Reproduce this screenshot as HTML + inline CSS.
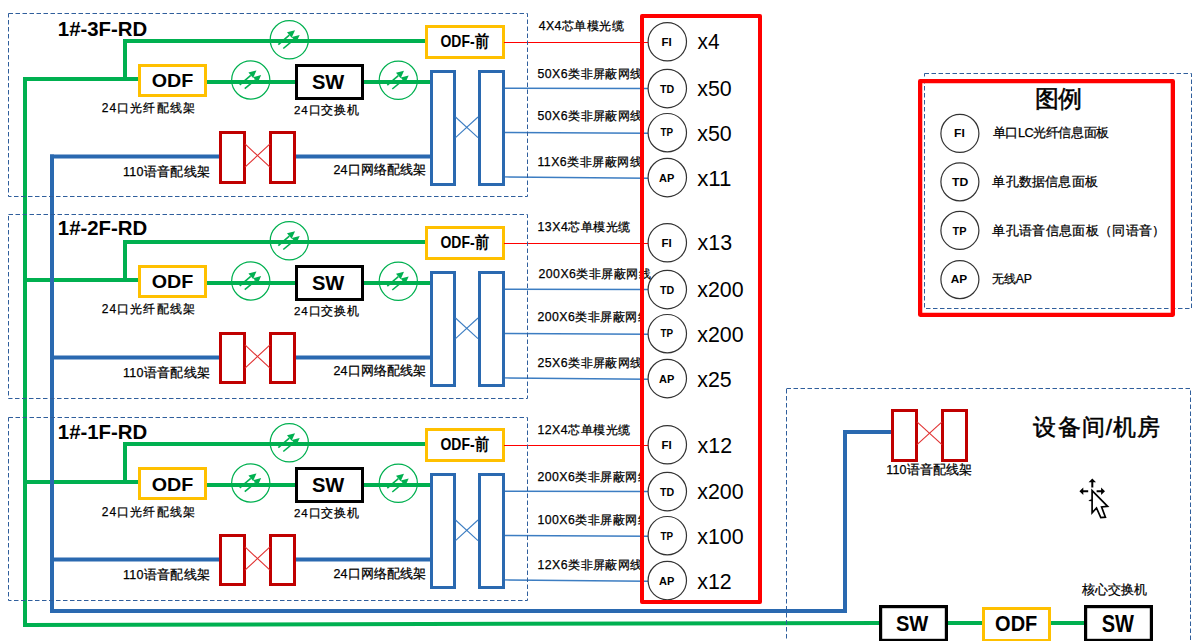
<!DOCTYPE html><html><head><meta charset="utf-8"><style>html,body{margin:0;padding:0;background:#fff;width:1200px;height:641px;overflow:hidden}svg{display:block}text{font-family:"Liberation Sans", sans-serif;fill:#000}</style></head><body>
<svg width="1200" height="641" viewBox="0 0 1200 641">
<defs><clipPath id="lc"><rect x="0" y="0" width="640" height="641"/></clipPath></defs>
<rect width="1200" height="641" fill="#fff"/>
<polyline points="125,79 125,41 426,41" fill="none" stroke="#00B050" stroke-width="4"/>
<line x1="25" y1="79" x2="139" y2="79" stroke="#00B050" stroke-width="4"/>
<line x1="206" y1="82" x2="296" y2="82" stroke="#00B050" stroke-width="4"/>
<line x1="362" y1="82" x2="431" y2="82" stroke="#00B050" stroke-width="4"/>
<circle cx="289.3" cy="39.8" r="19.1" fill="none" stroke="#00B050" stroke-width="1.2"/>
<line x1="278.30" y1="44.60" x2="289.32" y2="35.10" stroke="#00B050" stroke-width="1.6"/>
<polygon points="295.00,30.20 291.67,37.82 286.97,32.37" fill="#00B050"/>
<line x1="283.30" y1="48.50" x2="293.93" y2="39.69" stroke="#00B050" stroke-width="1.6"/>
<polygon points="299.70,34.90 296.22,42.46 291.63,36.92" fill="#00B050"/>
<circle cx="250.75" cy="80" r="19.1" fill="none" stroke="#00B050" stroke-width="1.2"/>
<line x1="239.75" y1="84.80" x2="250.77" y2="75.30" stroke="#00B050" stroke-width="1.6"/>
<polygon points="256.45,70.40 253.12,78.02 248.42,72.57" fill="#00B050"/>
<line x1="244.75" y1="88.70" x2="255.38" y2="79.89" stroke="#00B050" stroke-width="1.6"/>
<polygon points="261.15,75.10 257.67,82.66 253.08,77.12" fill="#00B050"/>
<circle cx="398.3" cy="80.3" r="19.1" fill="none" stroke="#00B050" stroke-width="1.2"/>
<line x1="387.30" y1="85.10" x2="398.32" y2="75.60" stroke="#00B050" stroke-width="1.6"/>
<polygon points="404.00,70.70 400.67,78.32 395.97,72.87" fill="#00B050"/>
<line x1="392.30" y1="89.00" x2="402.93" y2="80.19" stroke="#00B050" stroke-width="1.6"/>
<polygon points="408.70,75.40 405.22,82.96 400.63,77.42" fill="#00B050"/>
<rect x="139.50" y="65.50" width="66.00" height="30.00" fill="#fff" stroke="#FFC000" stroke-width="3"/>
<rect x="296.50" y="65.50" width="66.00" height="33.00" fill="#fff" stroke="#000" stroke-width="3"/>
<rect x="426.50" y="26.50" width="77.00" height="31.00" fill="#fff" stroke="#FFC000" stroke-width="3"/>
<line x1="504" y1="42.5" x2="648" y2="42.5" stroke="#FF0000" stroke-width="1.1"/>
<line x1="504" y1="88.2" x2="648" y2="88.5" stroke="#3C7DC2" stroke-width="1.4"/>
<line x1="504" y1="132.5" x2="648" y2="133.3" stroke="#3C7DC2" stroke-width="1.4"/>
<line x1="504" y1="176.9" x2="648" y2="178.3" stroke="#3C7DC2" stroke-width="1.4"/>
<rect x="431.50" y="71.50" width="23.00" height="113.00" fill="#fff" stroke="#2A69B0" stroke-width="3"/>
<rect x="479.50" y="71.50" width="24.00" height="113.00" fill="#fff" stroke="#2A69B0" stroke-width="3"/>
<line x1="455.5" y1="117" x2="478" y2="137.7" stroke="#3C7DC2" stroke-width="1.1"/>
<line x1="455.5" y1="137.7" x2="478" y2="117" stroke="#3C7DC2" stroke-width="1.1"/>
<line x1="50" y1="156.5" x2="220" y2="156.5" stroke="#2A69B0" stroke-width="4"/>
<line x1="295" y1="156.5" x2="431" y2="156.5" stroke="#2A69B0" stroke-width="4"/>
<rect x="220.50" y="132.50" width="24.00" height="50.00" fill="#fff" stroke="#C00000" stroke-width="3"/>
<rect x="270.50" y="132.50" width="24.00" height="50.00" fill="#fff" stroke="#C00000" stroke-width="3"/>
<line x1="245" y1="143.9" x2="270" y2="167.2" stroke="#E03030" stroke-width="1.1"/>
<line x1="245" y1="167.2" x2="270" y2="143.9" stroke="#E03030" stroke-width="1.1"/>
<text x="57.80" y="35.70" font-size="19.44" font-weight="bold" textLength="89.48" lengthAdjust="spacingAndGlyphs">1#-3F-RD</text>
<text x="151.70" y="87.20" font-size="19.11" font-weight="bold" textLength="41.56" lengthAdjust="spacingAndGlyphs">ODF</text>
<text x="101.80" y="112.10" font-size="12.00" font-weight="normal" textLength="92.90" lengthAdjust="spacing" stroke="#000" stroke-width="0.25">24口光纤配线架</text>
<text x="311.90" y="88.50" font-size="20.46" font-weight="bold" textLength="32.36" lengthAdjust="spacingAndGlyphs">SW</text>
<text x="294.10" y="113.60" font-size="11.50" font-weight="normal" textLength="65.06" lengthAdjust="spacing" stroke="#000" stroke-width="0.25">24口交换机</text>
<text x="440.50" y="46.60" font-size="16.81" font-weight="bold" textLength="48.31" lengthAdjust="spacingAndGlyphs">ODF-前</text>
<text x="123.00" y="175.50" font-size="12.50" font-weight="normal" textLength="86.99" lengthAdjust="spacing" stroke="#000" stroke-width="0.25">110语音配线架</text>
<text x="333.50" y="174.00" font-size="12.50" font-weight="normal" textLength="92.94" lengthAdjust="spacing" stroke="#000" stroke-width="0.25">24口网络配线架</text>
<text x="538.70" y="30.40" font-size="12.30" font-weight="normal" textLength="84.89" lengthAdjust="spacing" clip-path="url(#lc)" stroke="#000" stroke-width="0.25">4X4芯单模光缆</text>
<text x="537.40" y="77.90" font-size="12.30" font-weight="normal" textLength="105.06" lengthAdjust="spacing" clip-path="url(#lc)" stroke="#000" stroke-width="0.25">50X6类非屏蔽网线</text>
<text x="537.40" y="120.40" font-size="12.30" font-weight="normal" textLength="105.06" lengthAdjust="spacing" clip-path="url(#lc)" stroke="#000" stroke-width="0.25">50X6类非屏蔽网线</text>
<text x="537.40" y="165.60" font-size="12.30" font-weight="normal" textLength="104.12" lengthAdjust="spacing" clip-path="url(#lc)" stroke="#000" stroke-width="0.25">11X6类非屏蔽网线</text>
<circle cx="667.3" cy="41.75" r="19.2" fill="#fff" stroke="#333" stroke-width="1.2"/>
<text x="661.40" y="45.60" font-size="11.50" font-weight="bold" textLength="10.23" lengthAdjust="spacingAndGlyphs">FI</text>
<text x="697.60" y="49.20" font-size="21.50" font-weight="normal" textLength="21.98" lengthAdjust="spacingAndGlyphs">x4</text>
<circle cx="667.3" cy="88.6" r="19.2" fill="#fff" stroke="#333" stroke-width="1.2"/>
<text x="659.90" y="92.80" font-size="11.50" font-weight="bold" textLength="14.17" lengthAdjust="spacingAndGlyphs">TD</text>
<text x="697.20" y="95.80" font-size="21.50" font-weight="normal" textLength="34.48" lengthAdjust="spacingAndGlyphs">x50</text>
<circle cx="667.3" cy="132.7" r="19.2" fill="#fff" stroke="#333" stroke-width="1.2"/>
<text x="660.40" y="136.00" font-size="11.50" font-weight="bold" textLength="12.58" lengthAdjust="spacingAndGlyphs">TP</text>
<text x="697.20" y="140.60" font-size="21.50" font-weight="normal" textLength="34.48" lengthAdjust="spacingAndGlyphs">x50</text>
<circle cx="667.3" cy="177.6" r="19.2" fill="#fff" stroke="#333" stroke-width="1.2"/>
<text x="659.10" y="181.60" font-size="11.50" font-weight="bold" textLength="15.28" lengthAdjust="spacingAndGlyphs">AP</text>
<text x="697.20" y="185.50" font-size="21.50" font-weight="normal" textLength="34.34" lengthAdjust="spacingAndGlyphs">x11</text>
<polyline points="125,280 125,242 426,242" fill="none" stroke="#00B050" stroke-width="4"/>
<line x1="25" y1="280" x2="139" y2="280" stroke="#00B050" stroke-width="4"/>
<line x1="206" y1="283" x2="296" y2="283" stroke="#00B050" stroke-width="4"/>
<line x1="362" y1="283" x2="431" y2="283" stroke="#00B050" stroke-width="4"/>
<circle cx="289.3" cy="240.8" r="19.1" fill="none" stroke="#00B050" stroke-width="1.2"/>
<line x1="278.30" y1="245.60" x2="289.32" y2="236.10" stroke="#00B050" stroke-width="1.6"/>
<polygon points="295.00,231.20 291.67,238.82 286.97,233.37" fill="#00B050"/>
<line x1="283.30" y1="249.50" x2="293.93" y2="240.69" stroke="#00B050" stroke-width="1.6"/>
<polygon points="299.70,235.90 296.22,243.46 291.63,237.92" fill="#00B050"/>
<circle cx="250.75" cy="281" r="19.1" fill="none" stroke="#00B050" stroke-width="1.2"/>
<line x1="239.75" y1="285.80" x2="250.77" y2="276.30" stroke="#00B050" stroke-width="1.6"/>
<polygon points="256.45,271.40 253.12,279.02 248.42,273.57" fill="#00B050"/>
<line x1="244.75" y1="289.70" x2="255.38" y2="280.89" stroke="#00B050" stroke-width="1.6"/>
<polygon points="261.15,276.10 257.67,283.66 253.08,278.12" fill="#00B050"/>
<circle cx="398.3" cy="281.3" r="19.1" fill="none" stroke="#00B050" stroke-width="1.2"/>
<line x1="387.30" y1="286.10" x2="398.32" y2="276.60" stroke="#00B050" stroke-width="1.6"/>
<polygon points="404.00,271.70 400.67,279.32 395.97,273.87" fill="#00B050"/>
<line x1="392.30" y1="290.00" x2="402.93" y2="281.19" stroke="#00B050" stroke-width="1.6"/>
<polygon points="408.70,276.40 405.22,283.96 400.63,278.42" fill="#00B050"/>
<rect x="139.50" y="266.50" width="66.00" height="30.00" fill="#fff" stroke="#FFC000" stroke-width="3"/>
<rect x="296.50" y="266.50" width="66.00" height="33.00" fill="#fff" stroke="#000" stroke-width="3"/>
<rect x="426.50" y="227.50" width="77.00" height="31.00" fill="#fff" stroke="#FFC000" stroke-width="3"/>
<line x1="504" y1="243.5" x2="648" y2="243.5" stroke="#FF0000" stroke-width="1.1"/>
<line x1="504" y1="289.2" x2="648" y2="289.5" stroke="#3C7DC2" stroke-width="1.4"/>
<line x1="504" y1="333.5" x2="648" y2="334.3" stroke="#3C7DC2" stroke-width="1.4"/>
<line x1="504" y1="377.9" x2="648" y2="379.3" stroke="#3C7DC2" stroke-width="1.4"/>
<rect x="431.50" y="272.50" width="23.00" height="113.00" fill="#fff" stroke="#2A69B0" stroke-width="3"/>
<rect x="479.50" y="272.50" width="24.00" height="113.00" fill="#fff" stroke="#2A69B0" stroke-width="3"/>
<line x1="455.5" y1="318" x2="478" y2="338.7" stroke="#3C7DC2" stroke-width="1.1"/>
<line x1="455.5" y1="338.7" x2="478" y2="318" stroke="#3C7DC2" stroke-width="1.1"/>
<line x1="50" y1="357.5" x2="220" y2="357.5" stroke="#2A69B0" stroke-width="4"/>
<line x1="295" y1="357.5" x2="431" y2="357.5" stroke="#2A69B0" stroke-width="4"/>
<rect x="220.50" y="333.50" width="24.00" height="49.00" fill="#fff" stroke="#C00000" stroke-width="3"/>
<rect x="270.50" y="333.50" width="24.00" height="49.00" fill="#fff" stroke="#C00000" stroke-width="3"/>
<line x1="245" y1="344.9" x2="270" y2="368.2" stroke="#E03030" stroke-width="1.1"/>
<line x1="245" y1="368.2" x2="270" y2="344.9" stroke="#E03030" stroke-width="1.1"/>
<text x="57.80" y="234.70" font-size="19.44" font-weight="bold" textLength="89.48" lengthAdjust="spacingAndGlyphs">1#-2F-RD</text>
<text x="151.70" y="288.20" font-size="19.11" font-weight="bold" textLength="41.56" lengthAdjust="spacingAndGlyphs">ODF</text>
<text x="101.80" y="313.10" font-size="12.00" font-weight="normal" textLength="92.90" lengthAdjust="spacing" stroke="#000" stroke-width="0.25">24口光纤配线架</text>
<text x="311.90" y="289.50" font-size="20.46" font-weight="bold" textLength="32.36" lengthAdjust="spacingAndGlyphs">SW</text>
<text x="294.10" y="314.60" font-size="11.50" font-weight="normal" textLength="65.06" lengthAdjust="spacing" stroke="#000" stroke-width="0.25">24口交换机</text>
<text x="440.50" y="247.60" font-size="16.81" font-weight="bold" textLength="48.31" lengthAdjust="spacingAndGlyphs">ODF-前</text>
<text x="123.00" y="376.50" font-size="12.50" font-weight="normal" textLength="86.99" lengthAdjust="spacing" stroke="#000" stroke-width="0.25">110语音配线架</text>
<text x="333.50" y="375.00" font-size="12.50" font-weight="normal" textLength="92.94" lengthAdjust="spacing" stroke="#000" stroke-width="0.25">24口网络配线架</text>
<text x="537.50" y="231.40" font-size="12.30" font-weight="normal" textLength="92.76" lengthAdjust="spacing" clip-path="url(#lc)" stroke="#000" stroke-width="0.25">13X4芯单模光缆</text>
<text x="538.50" y="278.10" font-size="12.30" font-weight="normal" textLength="112.20" lengthAdjust="spacing" stroke="#000" stroke-width="0.25">200X6类非屏蔽网线</text>
<text x="537.40" y="321.40" font-size="12.30" font-weight="normal" textLength="112.20" lengthAdjust="spacing" clip-path="url(#lc)" stroke="#000" stroke-width="0.25">200X6类非屏蔽网线</text>
<text x="537.40" y="366.60" font-size="12.30" font-weight="normal" textLength="105.06" lengthAdjust="spacing" clip-path="url(#lc)" stroke="#000" stroke-width="0.25">25X6类非屏蔽网线</text>
<circle cx="667.3" cy="242.75" r="19.2" fill="#fff" stroke="#333" stroke-width="1.2"/>
<text x="661.40" y="246.60" font-size="11.50" font-weight="bold" textLength="10.23" lengthAdjust="spacingAndGlyphs">FI</text>
<text x="697.60" y="250.20" font-size="21.50" font-weight="normal" textLength="34.48" lengthAdjust="spacingAndGlyphs">x13</text>
<circle cx="667.3" cy="289.6" r="19.2" fill="#fff" stroke="#333" stroke-width="1.2"/>
<text x="659.90" y="293.80" font-size="11.50" font-weight="bold" textLength="14.17" lengthAdjust="spacingAndGlyphs">TD</text>
<text x="697.20" y="296.80" font-size="21.50" font-weight="normal" textLength="46.37" lengthAdjust="spacingAndGlyphs">x200</text>
<circle cx="667.3" cy="333.7" r="19.2" fill="#fff" stroke="#333" stroke-width="1.2"/>
<text x="660.40" y="337.00" font-size="11.50" font-weight="bold" textLength="12.58" lengthAdjust="spacingAndGlyphs">TP</text>
<text x="697.20" y="341.60" font-size="21.50" font-weight="normal" textLength="46.37" lengthAdjust="spacingAndGlyphs">x200</text>
<circle cx="667.3" cy="378.6" r="19.2" fill="#fff" stroke="#333" stroke-width="1.2"/>
<text x="659.10" y="382.60" font-size="11.50" font-weight="bold" textLength="15.28" lengthAdjust="spacingAndGlyphs">AP</text>
<text x="697.20" y="386.50" font-size="21.50" font-weight="normal" textLength="34.48" lengthAdjust="spacingAndGlyphs">x25</text>
<polyline points="125,482 125,444 426,444" fill="none" stroke="#00B050" stroke-width="4"/>
<line x1="25" y1="482" x2="139" y2="482" stroke="#00B050" stroke-width="4"/>
<line x1="206" y1="485" x2="296" y2="485" stroke="#00B050" stroke-width="4"/>
<line x1="362" y1="485" x2="431" y2="485" stroke="#00B050" stroke-width="4"/>
<circle cx="289.3" cy="442.8" r="19.1" fill="none" stroke="#00B050" stroke-width="1.2"/>
<line x1="278.30" y1="447.60" x2="289.32" y2="438.10" stroke="#00B050" stroke-width="1.6"/>
<polygon points="295.00,433.20 291.67,440.82 286.97,435.37" fill="#00B050"/>
<line x1="283.30" y1="451.50" x2="293.93" y2="442.69" stroke="#00B050" stroke-width="1.6"/>
<polygon points="299.70,437.90 296.22,445.46 291.63,439.92" fill="#00B050"/>
<circle cx="250.75" cy="483" r="19.1" fill="none" stroke="#00B050" stroke-width="1.2"/>
<line x1="239.75" y1="487.80" x2="250.77" y2="478.30" stroke="#00B050" stroke-width="1.6"/>
<polygon points="256.45,473.40 253.12,481.02 248.42,475.57" fill="#00B050"/>
<line x1="244.75" y1="491.70" x2="255.38" y2="482.89" stroke="#00B050" stroke-width="1.6"/>
<polygon points="261.15,478.10 257.67,485.66 253.08,480.12" fill="#00B050"/>
<circle cx="398.3" cy="483.3" r="19.1" fill="none" stroke="#00B050" stroke-width="1.2"/>
<line x1="387.30" y1="488.10" x2="398.32" y2="478.60" stroke="#00B050" stroke-width="1.6"/>
<polygon points="404.00,473.70 400.67,481.32 395.97,475.87" fill="#00B050"/>
<line x1="392.30" y1="492.00" x2="402.93" y2="483.19" stroke="#00B050" stroke-width="1.6"/>
<polygon points="408.70,478.40 405.22,485.96 400.63,480.42" fill="#00B050"/>
<rect x="139.50" y="468.50" width="66.00" height="30.00" fill="#fff" stroke="#FFC000" stroke-width="3"/>
<rect x="296.50" y="468.50" width="66.00" height="33.00" fill="#fff" stroke="#000" stroke-width="3"/>
<rect x="426.50" y="429.50" width="77.00" height="31.00" fill="#fff" stroke="#FFC000" stroke-width="3"/>
<line x1="504" y1="445.5" x2="648" y2="445.5" stroke="#FF0000" stroke-width="1.1"/>
<line x1="504" y1="491.2" x2="648" y2="491.5" stroke="#3C7DC2" stroke-width="1.4"/>
<line x1="504" y1="535.5" x2="648" y2="536.3" stroke="#3C7DC2" stroke-width="1.4"/>
<line x1="504" y1="579.9" x2="648" y2="581.3" stroke="#3C7DC2" stroke-width="1.4"/>
<rect x="431.50" y="474.50" width="23.00" height="113.00" fill="#fff" stroke="#2A69B0" stroke-width="3"/>
<rect x="479.50" y="474.50" width="24.00" height="113.00" fill="#fff" stroke="#2A69B0" stroke-width="3"/>
<line x1="455.5" y1="520" x2="478" y2="540.7" stroke="#3C7DC2" stroke-width="1.1"/>
<line x1="455.5" y1="540.7" x2="478" y2="520" stroke="#3C7DC2" stroke-width="1.1"/>
<line x1="50" y1="559.5" x2="220" y2="559.5" stroke="#2A69B0" stroke-width="4"/>
<line x1="295" y1="559.5" x2="431" y2="559.5" stroke="#2A69B0" stroke-width="4"/>
<rect x="220.50" y="535.50" width="24.00" height="49.00" fill="#fff" stroke="#C00000" stroke-width="3"/>
<rect x="270.50" y="535.50" width="24.00" height="49.00" fill="#fff" stroke="#C00000" stroke-width="3"/>
<line x1="245" y1="546.9" x2="270" y2="570.2" stroke="#E03030" stroke-width="1.1"/>
<line x1="245" y1="570.2" x2="270" y2="546.9" stroke="#E03030" stroke-width="1.1"/>
<text x="57.80" y="439.20" font-size="19.44" font-weight="bold" textLength="89.48" lengthAdjust="spacingAndGlyphs">1#-1F-RD</text>
<text x="151.70" y="490.70" font-size="19.11" font-weight="bold" textLength="41.56" lengthAdjust="spacingAndGlyphs">ODF</text>
<text x="101.80" y="515.60" font-size="12.00" font-weight="normal" textLength="92.90" lengthAdjust="spacing" stroke="#000" stroke-width="0.25">24口光纤配线架</text>
<text x="311.90" y="492.00" font-size="20.46" font-weight="bold" textLength="32.36" lengthAdjust="spacingAndGlyphs">SW</text>
<text x="294.10" y="517.10" font-size="11.50" font-weight="normal" textLength="65.06" lengthAdjust="spacing" stroke="#000" stroke-width="0.25">24口交换机</text>
<text x="440.50" y="450.10" font-size="16.81" font-weight="bold" textLength="48.31" lengthAdjust="spacingAndGlyphs">ODF-前</text>
<text x="123.00" y="579.00" font-size="12.50" font-weight="normal" textLength="86.99" lengthAdjust="spacing" stroke="#000" stroke-width="0.25">110语音配线架</text>
<text x="333.50" y="577.50" font-size="12.50" font-weight="normal" textLength="92.94" lengthAdjust="spacing" stroke="#000" stroke-width="0.25">24口网络配线架</text>
<text x="537.40" y="433.90" font-size="12.30" font-weight="normal" textLength="92.76" lengthAdjust="spacing" clip-path="url(#lc)" stroke="#000" stroke-width="0.25">12X4芯单模光缆</text>
<text x="537.40" y="481.40" font-size="12.30" font-weight="normal" textLength="112.20" lengthAdjust="spacing" clip-path="url(#lc)" stroke="#000" stroke-width="0.25">200X6类非屏蔽网线</text>
<text x="537.40" y="523.90" font-size="12.30" font-weight="normal" textLength="112.20" lengthAdjust="spacing" clip-path="url(#lc)" stroke="#000" stroke-width="0.25">100X6类非屏蔽网线</text>
<text x="537.40" y="569.10" font-size="12.30" font-weight="normal" textLength="105.06" lengthAdjust="spacing" clip-path="url(#lc)" stroke="#000" stroke-width="0.25">12X6类非屏蔽网线</text>
<circle cx="667.3" cy="444.75" r="19.2" fill="#fff" stroke="#333" stroke-width="1.2"/>
<text x="661.40" y="449.10" font-size="11.50" font-weight="bold" textLength="10.23" lengthAdjust="spacingAndGlyphs">FI</text>
<text x="697.60" y="452.70" font-size="21.50" font-weight="normal" textLength="34.48" lengthAdjust="spacingAndGlyphs">x12</text>
<circle cx="667.3" cy="491.6" r="19.2" fill="#fff" stroke="#333" stroke-width="1.2"/>
<text x="659.90" y="496.30" font-size="11.50" font-weight="bold" textLength="14.17" lengthAdjust="spacingAndGlyphs">TD</text>
<text x="697.20" y="499.30" font-size="21.50" font-weight="normal" textLength="46.37" lengthAdjust="spacingAndGlyphs">x200</text>
<circle cx="667.3" cy="535.7" r="19.2" fill="#fff" stroke="#333" stroke-width="1.2"/>
<text x="660.40" y="539.50" font-size="11.50" font-weight="bold" textLength="12.58" lengthAdjust="spacingAndGlyphs">TP</text>
<text x="697.20" y="544.10" font-size="21.50" font-weight="normal" textLength="46.37" lengthAdjust="spacingAndGlyphs">x100</text>
<circle cx="667.3" cy="580.6" r="19.2" fill="#fff" stroke="#333" stroke-width="1.2"/>
<text x="659.10" y="585.10" font-size="11.50" font-weight="bold" textLength="15.28" lengthAdjust="spacingAndGlyphs">AP</text>
<text x="697.20" y="589.00" font-size="21.50" font-weight="normal" textLength="34.48" lengthAdjust="spacingAndGlyphs">x12</text>
<polyline points="25,77 25,625 881,623" fill="none" stroke="#00B050" stroke-width="4"/>
<polyline points="52,154.5 52,611 845,611 845,432 892,432" fill="none" stroke="#2A69B0" stroke-width="4"/>
<path d="M8.5,13.5 H527.5 V196.5 H8.5 Z" fill="none" stroke="#2F5E9C" stroke-width="1" stroke-dasharray="4.5 2.5"/>
<path d="M8.5,214.5 H527.5 V398.5 H8.5 Z" fill="none" stroke="#2F5E9C" stroke-width="1" stroke-dasharray="4.5 2.5"/>
<path d="M8.5,417.5 H527.5 V600.5 H8.5 Z" fill="none" stroke="#2F5E9C" stroke-width="1" stroke-dasharray="4.5 2.5"/>
<rect x="642.00" y="16.00" width="118.00" height="586.00" fill="none" stroke="#FF0000" stroke-width="4" stroke-linejoin="round"/>
<path d="M786.5,388.5 H1190.5 V680 H786.5 Z" fill="none" stroke="#2F5E9C" stroke-width="1" stroke-dasharray="4.5 2.5"/>
<text x="1033.40" y="435.20" font-size="22.70" font-weight="normal" textLength="126.88" lengthAdjust="spacing" stroke="#000" stroke-width="0.5">设备间/机房</text>
<rect x="892.50" y="410.50" width="24.00" height="50.00" fill="#fff" stroke="#C00000" stroke-width="3"/>
<rect x="942.50" y="410.50" width="24.00" height="50.00" fill="#fff" stroke="#C00000" stroke-width="3"/>
<line x1="917" y1="421.9" x2="942" y2="444.6" stroke="#E03030" stroke-width="1.1"/>
<line x1="917" y1="444.6" x2="942" y2="421.9" stroke="#E03030" stroke-width="1.1"/>
<text x="886.30" y="473.90" font-size="12.50" font-weight="normal" textLength="85.56" lengthAdjust="spacing" stroke="#000" stroke-width="0.25">110语音配线架</text>
<text x="1082.40" y="593.70" font-size="12.50" font-weight="normal" textLength="64.22" lengthAdjust="spacing" stroke="#000" stroke-width="0.25">核心交换机</text>
<line x1="946" y1="623" x2="983" y2="623" stroke="#00B050" stroke-width="4"/>
<line x1="1050" y1="623" x2="1085" y2="623" stroke="#00B050" stroke-width="4"/>
<rect x="880.60" y="606.60" width="65.80" height="33.80" fill="#fff" stroke="#000" stroke-width="3.2"/>
<rect x="983.50" y="608.50" width="66.00" height="32.00" fill="#fff" stroke="#FFC000" stroke-width="3"/>
<rect x="1085.60" y="606.60" width="65.80" height="33.80" fill="#fff" stroke="#000" stroke-width="3.2"/>
<text x="895.90" y="630.60" font-size="21.22" font-weight="bold" textLength="32.36" lengthAdjust="spacingAndGlyphs">SW</text>
<text x="995.10" y="630.60" font-size="21.22" font-weight="bold" textLength="42.19" lengthAdjust="spacingAndGlyphs">ODF</text>
<text x="1101.70" y="632.00" font-size="23.26" font-weight="bold" textLength="32.26" lengthAdjust="spacingAndGlyphs">SW</text>
<path d="M924.5,73.5 H1191.5 V308.5 H924.5 Z" fill="none" stroke="#2F5E9C" stroke-width="1" stroke-dasharray="4.5 2.5"/>
<rect x="920.15" y="81.15" width="252.70" height="233.70" fill="none" stroke="#FF0000" stroke-width="4.3" stroke-linejoin="round"/>
<text x="1035.00" y="106.60" font-size="23.66" font-weight="normal" textLength="47.07" lengthAdjust="spacing" stroke="#000" stroke-width="0.5">图例</text>
<circle cx="959.9" cy="133.4" r="19" fill="#fff" stroke="#333" stroke-width="1.2"/>
<text x="954.00" y="137.40" font-size="11.50" font-weight="bold" textLength="10.76" lengthAdjust="spacingAndGlyphs">FI</text>
<text x="992.80" y="137.20" font-size="12.70" font-weight="normal" textLength="116.43" lengthAdjust="spacing" stroke="#000" stroke-width="0.25">单口LC光纤信息面板</text>
<circle cx="959.9" cy="181.8" r="19" fill="#fff" stroke="#333" stroke-width="1.2"/>
<text x="952.00" y="185.90" font-size="11.50" font-weight="bold" textLength="16.20" lengthAdjust="spacingAndGlyphs">TD</text>
<text x="992.40" y="185.90" font-size="13.00" font-weight="normal" textLength="105.43" lengthAdjust="spacing" stroke="#000" stroke-width="0.25">单孔数据信息面板</text>
<circle cx="959.9" cy="230.4" r="19" fill="#fff" stroke="#333" stroke-width="1.2"/>
<text x="952.50" y="234.70" font-size="11.50" font-weight="bold" textLength="13.98" lengthAdjust="spacingAndGlyphs">TP</text>
<text x="992.40" y="235.00" font-size="13.00" font-weight="normal" textLength="172.79" lengthAdjust="spacing" stroke="#000" stroke-width="0.25">单孔语音信息面板（同语音）</text>
<circle cx="959.9" cy="279.6" r="19" fill="#fff" stroke="#333" stroke-width="1.2"/>
<text x="950.80" y="282.70" font-size="11.50" font-weight="bold" textLength="16.42" lengthAdjust="spacingAndGlyphs">AP</text>
<text x="992.40" y="283.20" font-size="12.30" font-weight="normal" textLength="39.44" lengthAdjust="spacing" stroke="#000" stroke-width="0.25">无线AP</text>
<g fill="#000">
<path d="M1092.3,478.5 L1096,482.3 L1093.3,482.3 L1093.3,487.6 L1091.3,487.6 L1091.3,482.3 L1088.6,482.3 Z"/>
<path d="M1079.4,491.2 L1083.3,487.4 L1083.3,490.2 L1088.2,490.2 L1088.2,492.2 L1083.3,492.2 L1083.3,495 Z"/>
<path d="M1105,491.2 L1101.1,487.4 L1101.1,490.2 L1096.6,490.2 L1096.6,492.2 L1101.1,492.2 L1101.1,495 Z"/>
<path d="M1088.4,501 Q1089.5,499.3 1092,499.3 L1092,501.3 Z"/>
</g>
<path d="M1092.1,490.6 L1092.1,512.9 L1096.5,508 L1100.8,517.6 L1105.4,517.2 L1101.6,507 L1107.6,506.4 Z" fill="#fff" stroke="#000" stroke-width="1.7" stroke-linejoin="miter"/>
</svg></body></html>
